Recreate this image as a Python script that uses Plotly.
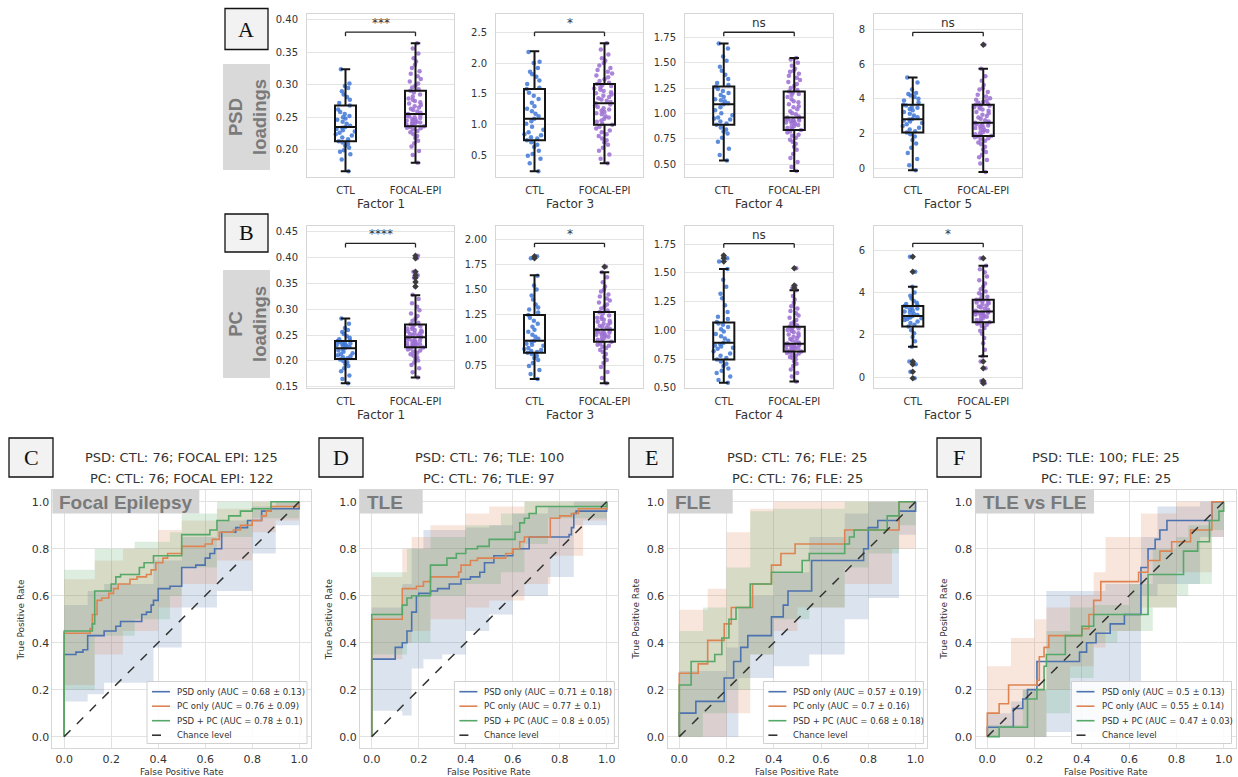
import plotly.graph_objects as go

W, H = 1238, 777

# ---------------- DATA: box plots ----------------
groups = ["CTL", "FOCAL-EPI"]
factors = ["Factor 1", "Factor 3", "Factor 4", "Factor 5"]

# [lowerfence, q1, median, q3, upperfence]
psd_ctl_stats = [[0.167, 0.213, 0.235, 0.268, 0.324],
                 [0.25, 0.75, 1.10, 1.58, 2.19],
                 [0.535, 0.887, 1.09, 1.265, 1.69],
                 [-0.09, 2.07, 2.84, 3.67, 5.24]]
psd_foc_stats = [[0.180, 0.236, 0.255, 0.291, 0.364],
                 [0.38, 1.00, 1.35, 1.66, 2.32],
                 [0.43, 0.835, 0.96, 1.216, 1.545],
                 [-0.19, 1.88, 2.63, 3.67, 5.74]]
pc_ctl_stats = [[0.157, 0.2036, 0.2245, 0.2385, 0.282],
                [0.611, 0.872, 0.991, 1.246, 1.64],
                [0.546, 0.748, 0.893, 1.07, 1.535],
                [1.44, 2.39, 2.89, 3.36, 4.27]]
pc_foc_stats = [[0.168, 0.2263, 0.246, 0.2708, 0.3275],
                [0.568, 0.98, 1.10, 1.275, 1.67],
                [0.557, 0.818, 0.885, 1.032, 1.35],
                [0.99, 2.59, 3.10, 3.66, 5.26]]

psd_ctl_f1 = [0.167, 0.185, 0.193, 0.197, 0.199, 0.203, 0.206, 0.209, 0.211, 0.213,
              0.216, 0.219, 0.222, 0.224, 0.226, 0.228, 0.230, 0.232, 0.234, 0.235,
              0.237, 0.240, 0.243, 0.246, 0.248, 0.250, 0.252, 0.255, 0.258, 0.262,
              0.268, 0.272, 0.277, 0.281, 0.285, 0.290, 0.295, 0.298, 0.302, 0.324]
psd_foc_f1 = [0.180, 0.192, 0.198, 0.205, 0.210, 0.214, 0.218, 0.221, 0.224, 0.227, 0.229, 0.231, 0.233, 0.234, 0.235, 0.236,
              0.238, 0.239, 0.240, 0.241, 0.242, 0.243, 0.244, 0.245, 0.246, 0.247, 0.249, 0.250, 0.251, 0.252, 0.253, 0.255,
              0.257, 0.259, 0.261, 0.263, 0.265, 0.267, 0.269, 0.271, 0.273, 0.275, 0.277, 0.279, 0.282, 0.285, 0.288, 0.291,
              0.293, 0.296, 0.299, 0.302, 0.305, 0.309, 0.313, 0.317, 0.321, 0.326, 0.331, 0.336, 0.341, 0.348, 0.356, 0.364]
psd_ctl_f3 = [0.25, 0.38, 0.45, 0.50, 0.53, 0.58, 0.64, 0.68, 0.72, 0.75,
              0.78, 0.80, 0.83, 0.85, 0.88, 0.92, 0.97, 1.02, 1.06, 1.10,
              1.14, 1.18, 1.22, 1.26, 1.30, 1.36, 1.42, 1.47, 1.52, 1.58,
              1.60, 1.66, 1.72, 1.78, 1.82, 1.86, 1.92, 2.00, 2.02, 2.18]
psd_foc_f3 = [0.38, 0.45, 0.52, 0.58, 0.63, 0.68, 0.72, 0.75, 0.78, 0.82, 0.85, 0.88, 0.91, 0.94, 0.97, 1.00,
              1.02, 1.05, 1.07, 1.10, 1.12, 1.14, 1.17, 1.19, 1.21, 1.23, 1.25, 1.27, 1.29, 1.31, 1.33, 1.35,
              1.37, 1.39, 1.41, 1.43, 1.45, 1.47, 1.49, 1.51, 1.53, 1.55, 1.57, 1.59, 1.61, 1.63, 1.64, 1.66,
              1.68, 1.71, 1.74, 1.77, 1.80, 1.83, 1.86, 1.89, 1.92, 1.96, 2.00, 2.04, 2.08, 2.14, 2.22, 2.32]
psd_ctl_f4 = [0.535, 0.59, 0.65, 0.72, 0.76, 0.80, 0.82, 0.84, 0.86, 0.887,
              0.90, 0.92, 0.94, 0.95, 0.96, 0.98, 1.00, 1.03, 1.06, 1.09,
              1.10, 1.12, 1.13, 1.14, 1.16, 1.18, 1.20, 1.22, 1.24, 1.262,
              1.28, 1.30, 1.34, 1.38, 1.42, 1.46, 1.52, 1.56, 1.64, 1.69]
psd_foc_f4 = [0.43, 0.47, 0.52, 0.56, 0.60, 0.64, 0.67, 0.70, 0.72, 0.74, 0.76, 0.78, 0.79, 0.81, 0.82, 0.835,
              0.845, 0.855, 0.865, 0.875, 0.885, 0.895, 0.905, 0.91, 0.92, 0.925, 0.93, 0.935, 0.94, 0.945, 0.95, 0.96,
              0.97, 0.99, 1.00, 1.02, 1.04, 1.06, 1.07, 1.09, 1.11, 1.12, 1.14, 1.16, 1.18, 1.19, 1.20, 1.216,
              1.23, 1.25, 1.27, 1.29, 1.31, 1.33, 1.35, 1.37, 1.39, 1.41, 1.42, 1.44, 1.47, 1.50, 1.53, 1.545]
psd_ctl_f5 = [-0.09, 0.20, 0.55, 0.90, 1.20, 1.45, 1.65, 1.85, 1.98, 2.07,
              2.15, 2.25, 2.35, 2.45, 2.55, 2.62, 2.70, 2.76, 2.82, 2.87,
              2.95, 3.05, 3.15, 3.25, 3.35, 3.42, 3.50, 3.56, 3.62, 3.67,
              3.80, 3.92, 4.02, 4.12, 4.20, 4.28, 4.35, 4.55, 4.95, 5.24]
psd_foc_f5 = [-0.19, 0.30, 0.50, 0.65, 0.80, 0.95, 1.10, 1.25, 1.40, 1.50, 1.60, 1.68, 1.74, 1.80, 1.85, 1.88,
              1.92, 1.98, 2.04, 2.10, 2.16, 2.22, 2.28, 2.33, 2.38, 2.43, 2.48, 2.52, 2.56, 2.59, 2.62, 2.64,
              2.70, 2.78, 2.86, 2.94, 3.02, 3.10, 3.18, 3.25, 3.32, 3.40, 3.46, 3.52, 3.57, 3.61, 3.64, 3.67,
              3.72, 3.78, 3.84, 3.90, 3.96, 4.04, 4.14, 4.25, 4.40, 4.55, 4.62, 4.80, 5.05, 5.30, 5.74, 7.11]

pc_ctl_f1 = [0.157, 0.165, 0.172, 0.180, 0.186, 0.190, 0.194, 0.197, 0.200, 0.203,
             0.205, 0.207, 0.209, 0.211, 0.213, 0.215, 0.218, 0.220, 0.223, 0.2255,
             0.227, 0.229, 0.230, 0.231, 0.232, 0.233, 0.234, 0.235, 0.236, 0.2385,
             0.240, 0.242, 0.245, 0.248, 0.252, 0.256, 0.260, 0.264, 0.272, 0.282]
pc_foc_f1 = [0.168, 0.178, 0.186, 0.192, 0.197, 0.201, 0.204, 0.207, 0.210, 0.213, 0.216, 0.218, 0.220, 0.222, 0.224, 0.226,
             0.228, 0.229, 0.230, 0.231, 0.232, 0.233, 0.234, 0.235, 0.237, 0.238, 0.239, 0.240, 0.242, 0.243, 0.245, 0.246,
             0.248, 0.249, 0.250, 0.252, 0.253, 0.254, 0.256, 0.257, 0.259, 0.260, 0.262, 0.263, 0.265, 0.267, 0.269, 0.271,
             0.274, 0.278, 0.282, 0.287, 0.292, 0.298, 0.305, 0.312, 0.320, 0.328, 0.344, 0.353, 0.361, 0.366, 0.373, 0.399, 0.404]
pc_ctl_f3 = [0.611, 0.66, 0.70, 0.74, 0.77, 0.80, 0.82, 0.84, 0.86, 0.872,
             0.88, 0.89, 0.90, 0.91, 0.92, 0.94, 0.95, 0.96, 0.98, 0.991,
             1.01, 1.03, 1.05, 1.08, 1.10, 1.13, 1.16, 1.19, 1.22, 1.246,
             1.27, 1.30, 1.32, 1.35, 1.40, 1.44, 1.50, 1.54, 1.636, 1.808, 1.828]
pc_foc_f3 = [0.568, 0.62, 0.68, 0.73, 0.77, 0.80, 0.83, 0.86, 0.88, 0.90, 0.92, 0.93, 0.94, 0.95, 0.96, 0.98,
             0.99, 1.00, 1.01, 1.02, 1.03, 1.04, 1.045, 1.05, 1.06, 1.065, 1.07, 1.075, 1.08, 1.085, 1.09, 1.10,
             1.11, 1.12, 1.13, 1.14, 1.15, 1.16, 1.17, 1.18, 1.19, 1.20, 1.21, 1.22, 1.23, 1.24, 1.26, 1.273,
             1.29, 1.31, 1.33, 1.35, 1.37, 1.39, 1.41, 1.43, 1.45, 1.48, 1.50, 1.53, 1.57, 1.62, 1.67, 1.725]
pc_ctl_f4 = [0.546, 0.57, 0.60, 0.63, 0.65, 0.67, 0.69, 0.71, 0.73, 0.748,
             0.76, 0.78, 0.80, 0.82, 0.84, 0.85, 0.86, 0.87, 0.88, 0.893,
             0.91, 0.93, 0.95, 0.97, 0.99, 1.01, 1.03, 1.05, 1.06, 1.073,
             1.10, 1.12, 1.16, 1.22, 1.28, 1.32, 1.38, 1.44, 1.535, 1.599, 1.628, 1.651]
pc_foc_f4 = [0.557, 0.60, 0.63, 0.66, 0.69, 0.71, 0.73, 0.75, 0.76, 0.77, 0.78, 0.79, 0.80, 0.805, 0.81, 0.818,
             0.825, 0.83, 0.835, 0.84, 0.845, 0.85, 0.855, 0.86, 0.865, 0.87, 0.872, 0.875, 0.878, 0.881, 0.884, 0.887,
             0.895, 0.905, 0.915, 0.925, 0.935, 0.945, 0.955, 0.965, 0.975, 0.985, 0.995, 1.005, 1.01, 1.02, 1.025, 1.032,
             1.045, 1.06, 1.075, 1.09, 1.11, 1.13, 1.15, 1.17, 1.19, 1.21, 1.24, 1.27, 1.30, 1.35, 1.37, 1.39, 1.54]
pc_ctl_f5 = [-0.05, 0.26, 0.61, 0.74, 1.44, 1.70, 1.90, 2.08, 2.22, 2.39,
             2.48, 2.56, 2.63, 2.70, 2.75, 2.79, 2.82, 2.85, 2.87, 2.89,
             2.94, 3.00, 3.05, 3.10, 3.15, 3.20, 3.25, 3.30, 3.33, 3.36,
             3.40, 3.46, 3.52, 3.60, 3.72, 3.85, 4.00, 4.27, 4.98, 5.69]
pc_foc_f5 = [-0.28, -0.17, 0.42, 0.74, 0.99, 1.30, 1.60, 1.85, 2.05, 2.20, 2.32, 2.42, 2.48, 2.53, 2.56, 2.59,
             2.64, 2.70, 2.75, 2.80, 2.85, 2.89, 2.93, 2.96, 2.99, 3.02, 3.04, 3.06, 3.07, 3.08, 3.09,
             3.14, 3.19, 3.24, 3.29, 3.34, 3.39, 3.44, 3.49, 3.53, 3.57, 3.60, 3.63, 3.66,
             3.72, 3.80, 3.88, 3.96, 4.05, 4.15, 4.28, 4.42, 4.58, 4.75, 4.95, 5.10, 5.26, 5.61]

psd_ctl_out = [[], [], [], []]
psd_foc_out = [[], [], [], [7.11]]
pc_ctl_out = [[], [1.808, 1.828], [1.599, 1.628, 1.651], [5.69, 4.98, 0.74, 0.61, 0.26, -0.05]]
pc_foc_out = [[0.344, 0.353, 0.361, 0.366, 0.373, 0.399, 0.404], [1.725], [1.37, 1.39, 1.54], [5.61, 0.74, 0.42, -0.17, -0.28]]

psd_sig = ["***", "*", "ns", "ns"]
pc_sig = ["****", "*", "ns", "*"]
psd_bracket = [0.381, 2.50, 1.80, 7.83]
pc_bracket = [0.4276, 1.957, 1.755, 6.32]

psd_yrange = [[0.158, 0.409], [0.156, 2.795], [0.372, 1.98], [-0.48, 8.88]]
pc_yrange = [[0.147, 0.462], [0.519, 2.132], [0.497, 1.911], [-0.52, 7.15]]
psd_dtick = [0.05, 0.5, 0.25, 2]
pc_dtick = [0.05, 0.25, 0.25, 2]
psd_fmt = [".2f", ".1f", ".2f", "d"]
pc_fmt = [".2f", ".2f", ".2f", "d"]

# ---------------- DATA: ROC curves ----------------
roc_title_psd = ["PSD: CTL: 76; FOCAL EPI: 125", "PSD: CTL: 76; TLE: 100", "PSD: CTL: 76; FLE: 25", "PSD: TLE: 100; FLE: 25"]
roc_title_pc = ["PC: CTL: 76; FOCAL EPI: 122", "PC: CTL: 76; TLE: 97", "PC: CTL: 76; FLE: 25", "PC: TLE: 97; FLE: 25"]
roc_tags = ["Focal Epilepsy", "TLE", "FLE", "TLE vs FLE"]
model_names = ["PSD only", "PC only", "PSD + PC"]
auc_psd = ["0.68 ± 0.13", "0.71 ± 0.18", "0.57 ± 0.19", "0.5 ± 0.13"]
auc_pc = ["0.76 ± 0.09", "0.77 ± 0.1", "0.7 ± 0.16", "0.55 ± 0.14"]
auc_all = ["0.78 ± 0.1", "0.8 ± 0.05", "0.68 ± 0.18", "0.47 ± 0.03"]

c_psd_x = [0, 0, 0.05, 0.08, 0.10, 0.14, 0.17, 0.20, 0.22, 0.24, 0.33, 0.35, 0.37, 0.38, 0.40, 0.45, 0.50, 0.56, 0.60, 0.62, 0.64, 0.67, 0.73, 0.78, 0.84, 0.88, 1.0, 1.0]
c_psd_y = [0, 0.35, 0.36, 0.37, 0.43, 0.43, 0.45, 0.45, 0.47, 0.49, 0.52, 0.53, 0.56, 0.58, 0.63, 0.64, 0.72, 0.73, 0.76, 0.78, 0.80, 0.87, 0.89, 0.92, 0.96, 0.97, 0.97, 1.0]
c_pc_x = [0, 0, 0.11, 0.12, 0.14, 0.16, 0.19, 0.21, 0.23, 0.28, 0.31, 0.35, 0.37, 0.39, 0.42, 0.44, 0.50, 0.60, 0.63, 0.66, 0.72, 0.75, 0.80, 0.84, 0.86, 0.88, 1.0, 1.0]
c_pc_y = [0, 0.44, 0.46, 0.52, 0.58, 0.59, 0.61, 0.63, 0.65, 0.67, 0.68, 0.69, 0.71, 0.74, 0.76, 0.78, 0.81, 0.82, 0.84, 0.87, 0.88, 0.90, 0.92, 0.94, 0.96, 0.98, 0.98, 1.0]
c_all_x = [0, 0, 0.12, 0.13, 0.20, 0.22, 0.24, 0.32, 0.34, 0.38, 0.50, 0.62, 0.65, 0.70, 0.75, 0.80, 0.88, 1.0]
c_all_y = [0, 0.45, 0.48, 0.62, 0.65, 0.68, 0.69, 0.72, 0.74, 0.77, 0.86, 0.88, 0.92, 0.94, 0.96, 0.97, 1.0, 1.0]

d_psd_x = [0, 0, 0.10, 0.13, 0.15, 0.17, 0.19, 0.20, 0.25, 0.28, 0.33, 0.38, 0.42, 0.46, 0.48, 0.52, 0.60, 0.67, 0.84, 0.85, 0.86, 0.87, 1.0, 1.0]
d_psd_y = [0, 0.33, 0.38, 0.40, 0.45, 0.53, 0.60, 0.61, 0.62, 0.63, 0.65, 0.67, 0.68, 0.70, 0.74, 0.77, 0.80, 0.85, 0.86, 0.89, 0.95, 0.96, 0.96, 1.0]
d_pc_x = [0, 0, 0.13, 0.19, 0.22, 0.25, 0.37, 0.38, 0.42, 0.45, 0.57, 0.60, 0.63, 0.65, 0.76, 0.80, 0.85, 0.88, 1.0, 1.0]
d_pc_y = [0, 0.50, 0.63, 0.64, 0.66, 0.68, 0.70, 0.73, 0.75, 0.76, 0.78, 0.80, 0.83, 0.85, 0.93, 0.94, 0.95, 0.97, 0.97, 1.0]
d_all_x = [0, 0, 0.13, 0.15, 0.17, 0.25, 0.32, 0.36, 0.40, 0.45, 0.50, 0.61, 0.63, 0.65, 0.67, 0.70, 1.0, 1.0]
d_all_y = [0, 0.52, 0.56, 0.59, 0.60, 0.73, 0.76, 0.78, 0.80, 0.81, 0.84, 0.87, 0.91, 0.93, 0.95, 0.98, 0.98, 1.0]

e_psd_x = [0, 0, 0.07, 0.19, 0.23, 0.26, 0.29, 0.39, 0.44, 0.46, 0.56, 0.78, 0.80, 0.84, 0.93, 1.0, 1.0]
e_psd_y = [0, 0.10, 0.15, 0.25, 0.32, 0.38, 0.43, 0.51, 0.56, 0.62, 0.75, 0.80, 0.89, 0.92, 0.96, 0.96, 1.0]
e_pc_x = [0, 0, 0.08, 0.12, 0.19, 0.22, 0.31, 0.39, 0.43, 0.49, 0.70, 0.93, 1.0]
e_pc_y = [0, 0.27, 0.31, 0.41, 0.48, 0.55, 0.65, 0.73, 0.78, 0.82, 0.88, 1.0, 1.0]
e_all_x = [0, 0, 0.05, 0.15, 0.18, 0.21, 0.24, 0.30, 0.39, 0.52, 0.55, 0.70, 0.72, 0.74, 0.88, 0.93, 1.0]
e_all_y = [0, 0.22, 0.32, 0.35, 0.42, 0.50, 0.55, 0.65, 0.70, 0.75, 0.78, 0.82, 0.85, 0.88, 0.94, 1.0, 1.0]

f_psd_x = [0, 0, 0.11, 0.15, 0.17, 0.21, 0.39, 0.42, 0.46, 0.52, 0.58, 0.65, 0.68, 0.71, 0.73, 0.76, 0.95, 1.0]
f_psd_y = [0, 0.04, 0.12, 0.16, 0.20, 0.32, 0.36, 0.40, 0.44, 0.48, 0.52, 0.72, 0.80, 0.84, 0.88, 0.92, 1.0, 1.0]
f_pc_x = [0, 0, 0.05, 0.09, 0.21, 0.22, 0.24, 0.26, 0.40, 0.43, 0.45, 0.48, 0.64, 0.68, 0.73, 0.78, 0.86, 0.95, 1.0]
f_pc_y = [0, 0.10, 0.14, 0.22, 0.24, 0.34, 0.38, 0.43, 0.46, 0.52, 0.58, 0.66, 0.70, 0.75, 0.79, 0.83, 0.88, 1.0, 1.0]
f_all_x = [0, 0.05, 0.17, 0.21, 0.24, 0.25, 0.33, 0.40, 0.45, 0.68, 0.83, 0.89, 0.94, 0.98, 1.0]
f_all_y = [0, 0.04, 0.16, 0.20, 0.30, 0.35, 0.43, 0.47, 0.52, 0.69, 0.79, 0.83, 0.92, 0.96, 1.0]

# confidence bands (x, lower, upper)
c_psd_bx = [0, 0.10, 0.17, 0.38, 0.50, 0.65, 0.80, 0.90, 1.0]
c_psd_lo = [0.15, 0.18, 0.23, 0.38, 0.55, 0.62, 0.78, 0.90, 0.90]
c_psd_hi = [0.56, 0.62, 0.65, 0.75, 0.85, 0.92, 0.98, 1.0, 1.0]
c_pc_bx = [0, 0.13, 0.25, 0.40, 0.50, 0.65, 0.80, 0.90, 1.0]
c_pc_lo = [0.22, 0.35, 0.45, 0.55, 0.65, 0.75, 0.87, 0.92, 0.95]
c_pc_hi = [0.67, 0.75, 0.80, 0.88, 0.92, 0.97, 1.0, 1.0, 1.0]
c_all_bx = [0, 0.13, 0.30, 0.45, 0.50, 0.65, 0.80, 1.0]
c_all_lo = [0.20, 0.43, 0.50, 0.60, 0.72, 0.85, 0.93, 1.0]
c_all_hi = [0.71, 0.80, 0.83, 0.87, 0.95, 1.0, 1.0, 1.0]

d_psd_bx = [0, 0.13, 0.17, 0.22, 0.30, 0.40, 0.50, 0.60, 0.75, 0.86, 1.0]
d_psd_lo = [0.11, 0.09, 0.29, 0.33, 0.35, 0.45, 0.52, 0.60, 0.68, 0.90, 0.90]
d_psd_hi = [0.55, 0.65, 0.80, 0.88, 0.88, 0.89, 0.90, 0.95, 0.98, 1.0, 1.0]
d_pc_bx = [0, 0.13, 0.17, 0.25, 0.40, 0.50, 0.65, 0.76, 0.90, 1.0]
d_pc_lo = [0.33, 0.40, 0.45, 0.50, 0.55, 0.58, 0.65, 0.77, 0.92, 0.92]
d_pc_hi = [0.68, 0.80, 0.85, 0.90, 0.95, 0.98, 1.0, 1.0, 1.0, 1.0]
d_all_bx = [0, 0.15, 0.25, 0.40, 0.55, 0.65, 0.75, 1.0]
d_all_lo = [0.35, 0.40, 0.60, 0.65, 0.70, 0.82, 0.93, 0.95]
d_all_hi = [0.70, 0.80, 0.85, 0.90, 0.95, 1.0, 1.0, 1.0]

e_psd_bx = [0, 0.07, 0.20, 0.25, 0.30, 0.40, 0.55, 0.70, 0.80, 0.93, 1.0]
e_psd_lo = [0.0, 0.0, 0.0, 0.25, 0.25, 0.30, 0.35, 0.50, 0.59, 0.86, 0.86]
e_psd_hi = [0.28, 0.28, 0.38, 0.55, 0.60, 0.70, 0.85, 0.95, 1.0, 1.0, 1.0]
e_pc_bx = [0, 0.12, 0.20, 0.30, 0.40, 0.50, 0.70, 0.90, 1.0]
e_pc_lo = [0.0, 0.0, 0.10, 0.35, 0.45, 0.55, 0.65, 0.80, 0.85]
e_pc_hi = [0.54, 0.63, 0.87, 0.97, 1.0, 1.0, 1.0, 1.0, 1.0]
e_all_bx = [0, 0.10, 0.20, 0.30, 0.40, 0.55, 0.70, 0.80, 0.93, 1.0]
e_all_lo = [0.0, 0.10, 0.20, 0.35, 0.50, 0.55, 0.72, 0.78, 0.90, 0.90]
e_all_hi = [0.45, 0.55, 0.72, 0.96, 0.97, 0.97, 1.0, 1.0, 1.0, 1.0]

f_psd_bx = [0, 0.10, 0.15, 0.25, 0.42, 0.50, 0.65, 0.72, 0.90, 1.0]
f_psd_lo = [0.0, 0.0, 0.0, 0.02, 0.02, 0.02, 0.60, 0.65, 0.85, 0.88]
f_psd_hi = [0.10, 0.15, 0.20, 0.62, 0.62, 0.65, 0.85, 0.98, 1.0, 1.0]
f_pc_bx = [0, 0.10, 0.20, 0.25, 0.35, 0.45, 0.50, 0.65, 0.80, 0.95, 1.0]
f_pc_lo = [0.0, 0.0, 0.0, 0.20, 0.30, 0.38, 0.45, 0.55, 0.70, 0.85, 0.88]
f_pc_hi = [0.30, 0.42, 0.50, 0.55, 0.60, 0.70, 0.85, 0.95, 1.0, 1.0, 1.0]
f_all_bx = [0, 0.15, 0.25, 0.35, 0.45, 0.55, 0.60, 0.70, 0.80, 0.85, 0.95, 1.0]
f_all_lo = [0.0, 0.0, 0.10, 0.25, 0.40, 0.45, 0.45, 0.55, 0.60, 0.65, 0.88, 0.88]
f_all_hi = [0.05, 0.20, 0.45, 0.55, 0.56, 0.56, 0.65, 0.80, 0.85, 0.90, 1.0, 1.0]

chance_x = [0, 1]
chance_y = [0, 1]

# ---------------- STYLE / LAYOUT ----------------
FONT = "DejaVu Sans"
TXT = "#333333"
CTL_COLOR = "#4178d7"
FOC_COLOR = "#9b6fd2"
LINE_COLORS = ["#4c72b0", "#dd8452", "#55a868"]
BAND_COLORS = ["rgba(76,114,176,0.20)", "rgba(221,132,82,0.20)", "rgba(85,168,104,0.20)"]

box_cols = [(307, 454), (496, 643), (685, 833), (874, 1022)]
box_rows = [(14, 177), (225.7, 388.3)]
roc_cols = [(52.4, 311), (360, 618.4), (667.5, 927.4), (975.5, 1235.5)]
roc_row = (490, 748.4)


def xd(a, b):
    return [a / W, b / W]


def yd(top, bottom):
    return [1 - bottom / H, 1 - top / H]


def px(x):
    return x / W


def py(y):
    return 1 - y / H


def axn(i):
    return ("x" if i == 1 else f"x{i}"), ("y" if i == 1 else f"y{i}")


fig = go.Figure()
layout = {}
shapes = []
annotations = []

rows_data = [
    (psd_ctl_stats, psd_foc_stats, [psd_ctl_f1, psd_ctl_f3, psd_ctl_f4, psd_ctl_f5],
     [psd_foc_f1, psd_foc_f3, psd_foc_f4, psd_foc_f5], psd_ctl_out, psd_foc_out,
     psd_sig, psd_bracket, psd_yrange, psd_dtick, psd_fmt),
    (pc_ctl_stats, pc_foc_stats, [pc_ctl_f1, pc_ctl_f3, pc_ctl_f4, pc_ctl_f5],
     [pc_foc_f1, pc_foc_f3, pc_foc_f4, pc_foc_f5], pc_ctl_out, pc_foc_out,
     pc_sig, pc_bracket, pc_yrange, pc_dtick, pc_fmt),
]

for r, (cst, fst, cpts, fpts, cout, fout, sig, brk, yr, dt, fmt) in enumerate(rows_data):
    top, bot = box_rows[r]
    for c in range(4):
        idx = r * 4 + c + 1
        xa, ya = axn(idx)
        xk = "xaxis" if idx == 1 else f"xaxis{idx}"
        yk = "yaxis" if idx == 1 else f"yaxis{idx}"
        layout[xk] = dict(domain=xd(*box_cols[c]), anchor=ya, type="category",
                          categoryorder="array", categoryarray=groups, range=[-0.55, 1.55],
                          showgrid=False, showline=True, mirror=True, linecolor="#d6d6d6", linewidth=1,
                          ticks="outside", ticklen=4, tickcolor="rgba(0,0,0,0)",
                          tickfont=dict(family=FONT, size=10, color=TXT), automargin=False, zeroline=False)
        layout[yk] = dict(domain=yd(top, bot), anchor=xa, range=yr[c], dtick=dt[c], tick0=0,
                          tickformat=fmt[c], showgrid=True, gridcolor="#e4e4e4", gridwidth=1,
                          showline=True, mirror=True, linecolor="#d6d6d6", linewidth=1,
                          ticks="outside", ticklen=6, tickcolor="rgba(0,0,0,0)",
                          tickfont=dict(family=FONT, size=10, color=TXT), automargin=False, zeroline=False)
        # strip points
        for cat, pts, col in [(groups[0], cpts[c], CTL_COLOR), (groups[1], fpts[c], FOC_COLOR)]:
            fig.add_trace(go.Box(x=[cat] * len(pts), y=pts, xaxis=xa, yaxis=ya, boxpoints="all",
                                 jitter=1.0, pointpos=0, width=0.3, fillcolor="rgba(0,0,0,0)",
                                 line=dict(width=0, color="rgba(0,0,0,0)"),
                                 marker=dict(color=col, size=4.5, opacity=0.85),
                                 showlegend=False, hoverinfo="y"))
        # boxes
        fig.add_trace(go.Box(x=groups, lowerfence=[cst[c][0], fst[c][0]], q1=[cst[c][1], fst[c][1]],
                             median=[cst[c][2], fst[c][2]], q3=[cst[c][3], fst[c][3]],
                             upperfence=[cst[c][4], fst[c][4]], xaxis=xa, yaxis=ya, width=0.3,
                             whiskerwidth=0.45, fillcolor="rgba(0,0,0,0)",
                             line=dict(color="#151515", width=2), boxpoints=False, showlegend=False))
        # outliers (fliers)
        for cat, out in [(groups[0], cout[c]), (groups[1], fout[c])]:
            if out:
                fig.add_trace(go.Scatter(x=[cat] * len(out), y=out, xaxis=xa, yaxis=ya, mode="markers",
                                         marker=dict(symbol="diamond", size=5, color="#3c3c3c"),
                                         showlegend=False, hoverinfo="y"))
        # significance bracket
        tk = 4 * (yr[c][1] - yr[c][0]) / (bot - top)
        yb = brk[c]
        for (x0, y0, x1, y1) in [(groups[0], yb - tk, groups[0], yb), (groups[0], yb, groups[1], yb),
                                 (groups[1], yb, groups[1], yb - tk)]:
            shapes.append(dict(type="line", xref=xa, yref=ya, x0=x0, y0=y0, x1=x1, y1=y1,
                               line=dict(color="#222222", width=1.3)))
        annotations.append(dict(xref=f"{xa} domain", yref=ya, x=0.5, y=yb, yanchor="bottom",
                                xanchor="center", showarrow=False, text=sig[c],
                                font=dict(family=FONT, size=12, color=TXT)))
        # factor label
        annotations.append(dict(xref="paper", yref="paper", x=px(sum(box_cols[c]) / 2),
                                y=py(bot + 27), xanchor="center", yanchor="middle",
                                showarrow=False, text=factors[c],
                                font=dict(family=FONT, size=12, color=TXT)))

# ROC panels
curves = [
    [(c_psd_x, c_psd_y), (c_pc_x, c_pc_y), (c_all_x, c_all_y)],
    [(d_psd_x, d_psd_y), (d_pc_x, d_pc_y), (d_all_x, d_all_y)],
    [(e_psd_x, e_psd_y), (e_pc_x, e_pc_y), (e_all_x, e_all_y)],
    [(f_psd_x, f_psd_y), (f_pc_x, f_pc_y), (f_all_x, f_all_y)],
]
bands = [
    [(c_psd_bx, c_psd_lo, c_psd_hi), (c_pc_bx, c_pc_lo, c_pc_hi), (c_all_bx, c_all_lo, c_all_hi)],
    [(d_psd_bx, d_psd_lo, d_psd_hi), (d_pc_bx, d_pc_lo, d_pc_hi), (d_all_bx, d_all_lo, d_all_hi)],
    [(e_psd_bx, e_psd_lo, e_psd_hi), (e_pc_bx, e_pc_lo, e_pc_hi), (e_all_bx, e_all_lo, e_all_hi)],
    [(f_psd_bx, f_psd_lo, f_psd_hi), (f_pc_bx, f_pc_lo, f_pc_hi), (f_all_bx, f_all_lo, f_all_hi)],
]
aucs = [auc_psd, auc_pc, auc_all]

top, bot = roc_row
for c in range(4):
    idx = 9 + c
    xa, ya = axn(idx)
    axis_common = dict(range=[-0.05, 1.05], dtick=0.2, tick0=0, tickformat=".1f", showgrid=True,
                       gridcolor="#e2e2e2", gridwidth=1, showline=True, mirror=True, linecolor="#d6d6d6",
                       linewidth=1, zeroline=False, automargin=False, ticks="",
                       tickfont=dict(family=FONT, size=11, color=TXT))
    layout[f"xaxis{idx}"] = dict(domain=xd(*roc_cols[c]), anchor=ya, **axis_common)
    layout[f"yaxis{idx}"] = dict(domain=yd(top, bot), anchor=xa, **axis_common)
    for k in range(3):
        bx, lo, hi = bands[c][k]
        fig.add_trace(go.Scatter(x=bx, y=lo, xaxis=xa, yaxis=ya, mode="lines",
                                 line=dict(width=0, shape="hv"), showlegend=False, hoverinfo="skip"))
        fig.add_trace(go.Scatter(x=bx, y=hi, xaxis=xa, yaxis=ya, mode="lines", fill="tonexty",
                                 fillcolor=BAND_COLORS[k], line=dict(width=0, shape="hv"),
                                 showlegend=False, hoverinfo="skip"))
    for k in range(3):
        cx, cy = curves[c][k]
        fig.add_trace(go.Scatter(x=cx, y=cy, xaxis=xa, yaxis=ya, mode="lines",
                                 line=dict(color=LINE_COLORS[k], width=1.6, shape="hv"),
                                 name=f"{model_names[k]} (AUC = {aucs[k][c]})", showlegend=False))
    fig.add_trace(go.Scatter(x=chance_x, y=chance_y, xaxis=xa, yaxis=ya, mode="lines",
                             line=dict(color="#333333", width=1.5, dash="dash"),
                             name="Chance level", showlegend=False))

    # legend box (drawn manually for compact spacing)
    lr = roc_cols[c][1] - 4
    ll = lr - 160
    shapes.append(dict(type="rect", xref="paper", yref="paper", x0=px(ll), x1=px(lr),
                       y0=py(743.5), y1=py(681.5), fillcolor="rgba(255,255,255,0.85)",
                       line=dict(color="#d0d0d0", width=1)))
    entries = [(f"{model_names[k]} (AUC = {aucs[k][c]})", LINE_COLORS[k], "solid") for k in range(3)]
    entries.append(("Chance level", "#333333", "dash"))
    for j, (label, colr, dsh) in enumerate(entries):
        yc = 691.7 + 14.5 * j
        shapes.append(dict(type="line", xref="paper", yref="paper", x0=px(ll + 5), x1=px(ll + 23),
                           y0=py(yc), y1=py(yc), line=dict(color=colr, width=1.6, dash=dsh)))
        annotations.append(dict(xref="paper", yref="paper", x=px(ll + 28), y=py(yc), xanchor="left",
                                yanchor="middle", showarrow=False, text=label,
                                font=dict(family=FONT, size=8.5, color=TXT)))

    cx_mid = sum(roc_cols[c]) / 2
    annotations.append(dict(xref="paper", yref="paper", x=px(cx_mid), y=py(457), xanchor="center",
                            yanchor="middle", showarrow=False, text=roc_title_psd[c],
                            font=dict(family=FONT, size=13, color=TXT)))
    annotations.append(dict(xref="paper", yref="paper", x=px(cx_mid), y=py(478), xanchor="center",
                            yanchor="middle", showarrow=False, text=roc_title_pc[c],
                            font=dict(family=FONT, size=13, color=TXT)))
    annotations.append(dict(xref="paper", yref="paper", x=px(cx_mid), y=py(771.5), xanchor="center",
                            yanchor="middle", showarrow=False, text="False Positive Rate",
                            font=dict(family=FONT, size=9, color=TXT)))
    annotations.append(dict(xref="paper", yref="paper", x=px(roc_cols[c][0] - 31), y=py((top + bot) / 2),
                            xanchor="center", yanchor="middle", showarrow=False, textangle=-90,
                            text="True Positive Rate", font=dict(family=FONT, size=9, color=TXT)))

# gray tag boxes inside ROC panels
tag_boxes = [(52.4, 199.3), (360, 422.7), (667.5, 732.7), (975.5, 1094)]
for c in range(4):
    x0, x1 = tag_boxes[c]
    shapes.append(dict(type="rect", xref="paper", yref="paper", x0=px(x0), x1=px(x1),
                       y0=py(513.5), y1=py(490), fillcolor="#d4d4d4", line=dict(width=0)))
    annotations.append(dict(xref="paper", yref="paper", x=px(x0 + 5), y=py(502), xanchor="left",
                            yanchor="middle", showarrow=False, text=f"<b>{roc_tags[c]}</b>",
                            font=dict(family="Liberation Sans", size=19, color="#7a7a7a")))

# side labels for rows
side = [("PSD<br>loadings", 64, 170), ("PC<br>loadings", 270, 378)]
for text, t, b in side:
    shapes.append(dict(type="rect", xref="paper", yref="paper", x0=px(223), x1=px(270),
                       y0=py(b), y1=py(t), fillcolor="#d9d9d9", line=dict(width=0)))
    annotations.append(dict(xref="paper", yref="paper", x=px(247), y=py((t + b) / 2), xanchor="center",
                            yanchor="middle", showarrow=False, textangle=-90, text=f"<b>{text}</b>",
                            font=dict(family="Liberation Sans", size=18.5, color="#7a7a7a")))

# panel letters
letters = [("A", 225, 268, 8.5, 49.5), ("B", 225, 268, 214, 252), ("C", 9, 53, 438, 477),
           ("D", 319, 363, 438, 477), ("E", 629, 673, 438, 477), ("F", 937, 981, 438, 477)]
for L, x0, x1, t, b in letters:
    shapes.append(dict(type="rect", xref="paper", yref="paper", x0=px(x0), x1=px(x1),
                       y0=py(b), y1=py(t), fillcolor="#f2f2f2", line=dict(color="#111111", width=1.3)))
    annotations.append(dict(xref="paper", yref="paper", x=px((x0 + x1) / 2), y=py((t + b) / 2),
                            xanchor="center", yanchor="middle", showarrow=False, text=L,
                            font=dict(family="Liberation Serif", size=22, color="#111111")))

fig.update_layout(**layout)
fig.update_layout(width=W, height=H, margin=dict(l=0, r=0, t=0, b=0), autosize=False,
                  template="none", plot_bgcolor="white", paper_bgcolor="white",
                  boxmode="overlay", shapes=shapes, annotations=annotations, showlegend=False,
                  font=dict(family=FONT, color=TXT))

fig.write_html("out.html", config={"displayModeBar": False},
               post_script="document.body.style.margin='0';document.body.style.padding='0';"
                           "document.body.style.overflow='hidden';")
